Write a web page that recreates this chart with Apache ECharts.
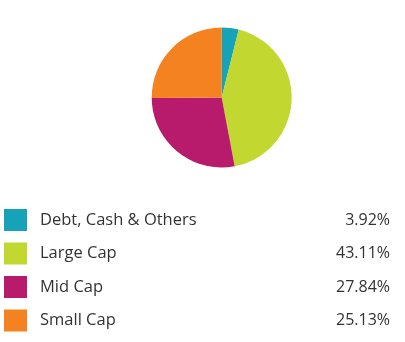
<!DOCTYPE html>
<html>
<head>
<meta charset="utf-8">
<script src="https://cdn.jsdelivr.net/npm/echarts@6/dist/echarts.min.js"></script>
<style>
  html, body { margin: 0; padding: 0; background: #fff; }
  #chart { width: 405px; height: 342px; }
</style>
</head>
<body>
<div id="chart"></div>
<script>
// Market-cap allocation of the portfolio
const categories = ['Debt, Cash & Others', 'Large Cap', 'Mid Cap', 'Small Cap'];
const weights = [3.92, 43.11, 27.84, 25.13];
const colors = ['#16a3b9', '#c2d730', '#b81b6c', '#f48220'];

const chart = echarts.init(document.getElementById('chart'), null, { renderer: 'canvas' });

const data = categories.map((name, i) => ({ name, value: weights[i] }));
const valueByName = {};
categories.forEach((n, i) => { valueByName[n] = weights[i].toFixed(2) + '%'; });

const font = '"Open Sans", "Noto Sans", sans-serif';

chart.setOption({
  animation: false,
  color: colors,
  legend: {
    orient: 'vertical',
    left: 4,
    top: 209,
    padding: 0,
    itemWidth: 23,
    itemHeight: 22,
    itemGap: 11.5,
    icon: 'rect',
    selectedMode: false,
    data: categories,
    formatter: name => `{n|${name}}{v|${valueByName[name]}}`,
    textStyle: {
      fontFamily: font,
      fontSize: 16,
      color: '#333',
      rich: {
        n: {
          fontFamily: font,
          fontSize: 16.5,
          color: '#333',
          width: 288,
          padding: [0, 0, 0, 8]
        },
        v: {
          fontFamily: font,
          fontSize: 16,
          color: '#333',
          width: 62,
          align: 'right'
        }
      }
    }
  },
  series: [{
    type: 'pie',
    center: [221.7, 97.5],
    radius: [0, 70],
    startAngle: 90,
    clockwise: true,
    label: { show: false },
    labelLine: { show: false },
    emphasis: { disabled: true },
    itemStyle: { borderWidth: 0 },
    data
  }]
});
</script>
</body>
</html>
